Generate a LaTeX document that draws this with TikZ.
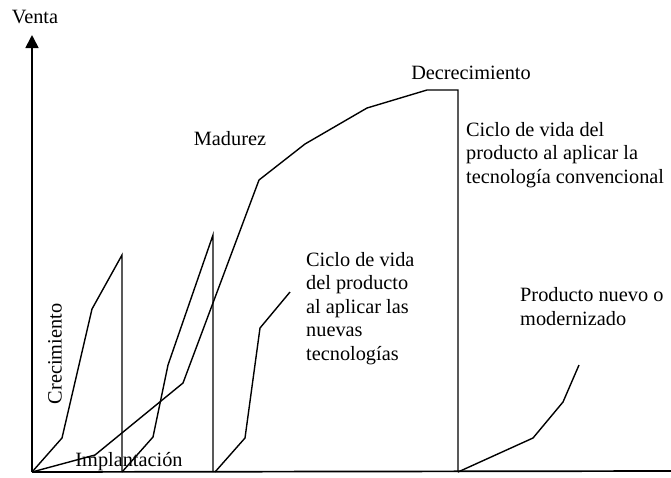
\documentclass[tikz,border=0pt]{standalone}
\usepackage{fontspec}
\setmainfont{Liberation Serif}
\usetikzlibrary{positioning}
\usetikzlibrary{arrows.meta}

\tikzset{
	eje/.style = {black, line width = 1.7pt},
	curva/.style = {black, line width = 1.4pt, line join = miter},
	rotulo/.style = {font = \fontsize{20.3}{23.5}\selectfont, inner sep = 0pt, align = left}
}

\begin{document}
\begin{tikzpicture}[x = 1pt, y = -1pt, baseline = 0]
				\useasboundingbox (0, 0) rectangle (671, 477);
				\coordinate (O) at (32, 472);
				\coordinate (Y) at (32, 35);
				\coordinate (X) at (671, 471);
				\draw[eje, -{Triangle[length = 13pt, width = 13pt]}] (O) -- (Y);
				\draw[eje] (O) -- (X);
				\draw[curva] (O) -- (62, 438) -- (92, 309) -- (122, 255) -- (122, 472) coordinate (A);
				\draw[curva] (A) -- (153, 437) -- (168, 365) -- (213, 235) -- (213, 472);
				\draw[curva] (O) -- (95, 455) -- (183, 383) -- (259, 180) -- (305, 144) -- (367, 108) -- (427, 90) -- (458, 90) -- (458, 472) coordinate (B);
				\draw[curva] (215, 472) -- (245, 438) -- (260, 328) -- (290, 292);
				\draw[curva] (B) -- (533, 438) -- (563, 402) -- (579, 365);
				\node[rotulo] (venta) at (35, 17) {Venta};
				\node[rotulo] (madurez) at (230, 139) {Madurez};
				\node[rotulo] (decrecimiento) at (471, 73) {Decrecimiento};
				\node[rotulo, rotate = 90] (crecimiento) at (55, 354) {Crecimiento};
				\node[rotulo, anchor = base] (implantacion) at (129, 466) {Implantación};
				% base = last line
				\node[rotulo, anchor = base west] (convencional) at (466, 183) {Ciclo de vida del\\producto al aplicar la\\tecnología convencional};
				\node[rotulo, anchor = base west] (nuevas) at (306, 360) {Ciclo de vida\\del producto\\al aplicar las\\nuevas\\tecnologías};
				\node[rotulo, anchor = base west] (nuevo) at (520, 325) {Producto nuevo o\\modernizado};
\end{tikzpicture}
\end{document}
